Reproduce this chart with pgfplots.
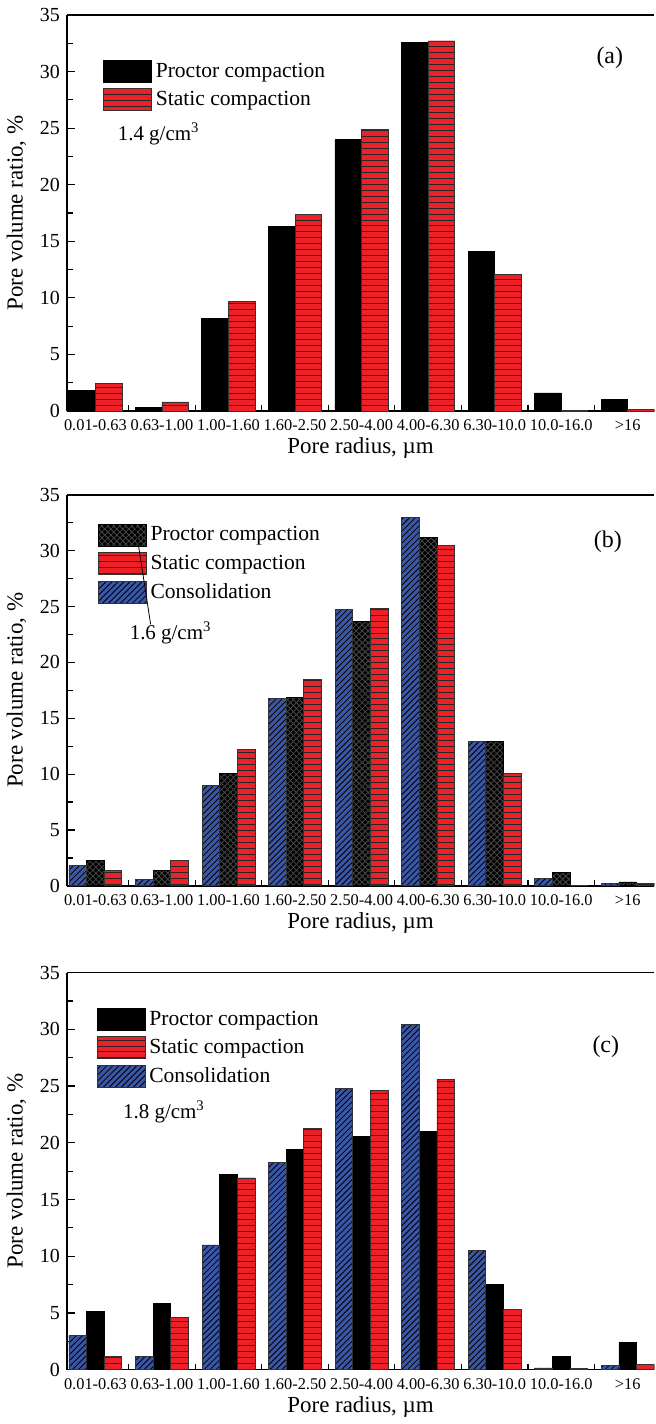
\documentclass[border=0pt]{standalone}
\usepackage{fontspec}
\setmainfont{Liberation Serif}
\usepackage{pgfplots}
\pgfplotsset{compat=1.18}
\usetikzlibrary{patterns}

\definecolor{barred}{RGB}{236,32,38}
\definecolor{barblue}{RGB}{58,86,166}

\pgfplotsset{
  barleg/.style={legend image code/.code={\draw[##1] (0pt,-5.5pt) rectangle (24pt,5.5pt);}},
  proctor/.style={fill=black, draw=black, barleg},
  proctorx/.style={fill=black, draw=black, postaction={pattern=crosshatch, pattern color=black!72}, barleg},
  static/.style={fill=barred, draw=black!80, postaction={pattern=horizontal lines, pattern color=black!85}, barleg},
  consol/.style={fill=barblue, draw=black!80, postaction={pattern=north east lines, pattern color=black}, barleg},
  poreaxis/.style={
    scale only axis, width=294.5pt,
    ybar, enlargelimits=false,
    xmin=-0.43, xmax=8.40, ymin=0, ymax=35,
    axis x line*=box, axis y line*=left,
    xtick pos=bottom, ytick pos=left,
    ytick={0,5,...,35}, minor y tick num=1,
    xtick={0,...,8},
    xticklabels={0.01-0.63,0.63-1.00,1.00-1.60,1.60-2.50,2.50-4.00,4.00-6.30,6.30-10.0,10.0-16.0,>16},
    minor xtick={0.5,1.5,...,7.5},
    major x tick style={draw=none},
    tick align=inside, major tick length=4pt, minor tick length=3pt,
    tick style={black, line width=0.6pt},
    axis line style={line width=0.8pt},
    /pgf/number format/assume math mode=true,
    xticklabel style={font=\fontsize{8.2}{9}\selectfont, yshift=-1pt},
    yticklabel style={font=\fontsize{10}{11}\selectfont},
    xlabel={Pore radius, µm}, ylabel={Pore volume ratio, \%},
    label style={font=\fontsize{11.5}{13}\selectfont},
    xlabel style={yshift=3.5pt},
    legend cell align=left,
    legend style={draw=none, fill=none, anchor=north west, font=\fontsize{10.8}{12}\selectfont, row sep=1.5pt},
  }
}

\begin{document}
\begin{tikzpicture}
% (a) 1.4 g/cm3
\begin{axis}[poreaxis, name=pa, at={(0pt,0pt)}, anchor=north west, height=198.5pt,
  bar width=0.4, legend style={at={(0.051,0.90)}}]
\addplot[proctor, bar shift=-0.2] coordinates {(0,1.8) (1,0.3) (2,8.2) (3,16.3) (4,24.0) (5,32.6) (6,14.1) (7,1.6) (8,1.05)};
\addplot[static, bar shift=0.2] coordinates {(0,2.4) (1,0.8) (2,9.7) (3,17.4) (4,24.9) (5,32.7) (6,12.1) (7,0.05) (8,0.1)};
\legend{Proctor compaction, Static compaction}
\node[font=\fontsize{10.5}{12}\selectfont] at (axis cs:0.95,24.5) {1.4 g/cm\textsuperscript{3}};
\node[font=\fontsize{12}{13}\selectfont] at (axis cs:7.73,31.2) {(a)};
\end{axis}

% (b) 1.6 g/cm3
\begin{axis}[poreaxis, name=pb, at={(0pt,-240.5pt)}, anchor=north west, height=196pt,
  bar width=0.265, legend style={at={(0.042,0.94)}}]
\addplot[proctorx, bar shift=0] coordinates {(0,2.3) (1,1.4) (2,10.1) (3,16.9) (4,23.7) (5,31.2) (6,12.9) (7,1.2) (8,0.35)};
\addplot[static, bar shift=0.265] coordinates {(0,1.4) (1,2.3) (2,12.2) (3,18.5) (4,24.8) (5,30.5) (6,10.1) (7,0.05) (8,0.2)};
\addplot[consol, bar shift=-0.265] coordinates {(0,1.8) (1,0.6) (2,9.0) (3,16.8) (4,24.7) (5,33.0) (6,12.9) (7,0.7) (8,0.2)};
\legend{Proctor compaction, Static compaction, Consolidation}
\coordinate (lnA) at (axis cs:0.60,32.3);
\coordinate (lnB) at (axis cs:0.83,23.4);
\node[font=\fontsize{10.5}{12}\selectfont] at (axis cs:1.13,22.6) {1.6 g/cm\textsuperscript{3}};
\node[font=\fontsize{12}{13}\selectfont] at (axis cs:7.7,30.8) {(b)};
\end{axis}
\draw[line width=0.4pt] (lnA) -- (lnB);

% (c) 1.8 g/cm3
\begin{axis}[poreaxis, name=pc, at={(0pt,-480pt)}, anchor=north west, height=199pt,
  bar width=0.265, legend style={at={(0.04,0.925)}}]
\addplot[proctor, bar shift=0] coordinates {(0,5.1) (1,5.8) (2,17.2) (3,19.4) (4,20.6) (5,21.0) (6,7.5) (7,1.2) (8,2.4)};
\addplot[static, bar shift=0.265] coordinates {(0,1.2) (1,4.6) (2,16.9) (3,21.3) (4,24.6) (5,25.6) (6,5.3) (7,0.1) (8,0.45)};
\addplot[consol, bar shift=-0.265] coordinates {(0,3.0) (1,1.2) (2,11.0) (3,18.3) (4,24.8) (5,30.4) (6,10.5) (7,0.15) (8,0.4)};
\legend{Proctor compaction, Static compaction, Consolidation}
\node[font=\fontsize{10.5}{12}\selectfont] at (axis cs:1.03,22.7) {1.8 g/cm\textsuperscript{3}};
\node[font=\fontsize{12}{13}\selectfont] at (axis cs:7.67,28.5) {(c)};
\end{axis}
\path (pa.north west) ++(0,7.5pt);
\end{tikzpicture}
\end{document}
